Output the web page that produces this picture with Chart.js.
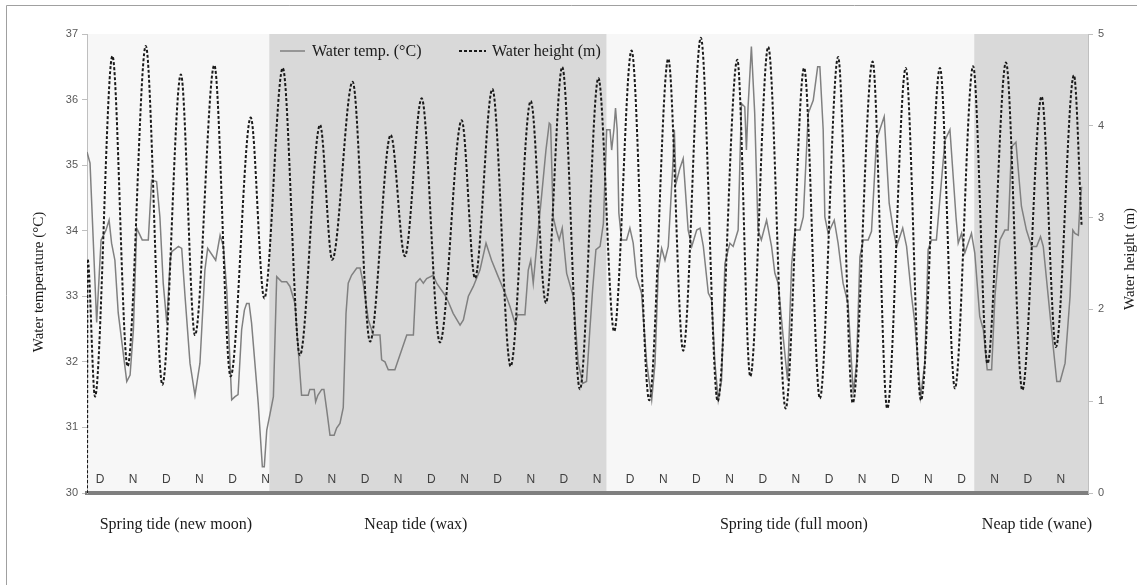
<!DOCTYPE html>
<html>
<head>
<meta charset="utf-8">
<script src="https://cdn.jsdelivr.net/npm/chart.js@4/dist/chart.umd.min.js"></script>
<style>
  body { margin: 0; background: #fff; }
  canvas { display: block; }
</style>
</head>
<body>
<canvas id="tideChart" width="1137" height="585"></canvas>
<script>
// time in hours from the start of the record
const tideHours = [0, 0.2, 2.9, 9.2, 14.7, 21.3, 27.3, 34.0, 39.1, 46.1, 52.0, 59.3, 64.2, 70.9, 77.1, 84.4, 88.8,
  96.2, 102.5, 110.0, 115.1, 121.2, 127.8, 135.7, 140.5, 146.8, 153.4, 160.7, 166.2, 172.1, 178.5, 185.2,
  190.9, 197.2, 203.6, 210.5, 215.9, 222.3, 228.4, 235.5, 240.2, 246.7, 253.0, 259.7, 265.4, 272.0,
  277.3, 284.5, 289.8, 296.5, 302.0, 308.9, 314.3, 320.9, 326.1, 332.8, 338.7, 345.7, 350.9, 357.4, 360.2];
const tideHeight = [0, 2.55, 1.05, 4.76, 1.38, 4.87, 1.18, 4.56, 1.72, 4.66, 1.27, 4.09, 2.12, 4.63, 1.50, 4.01, 2.54,
  4.48, 1.65, 3.90, 2.58, 4.30, 1.64, 4.06, 2.34, 4.40, 1.38, 4.27, 2.07, 4.64, 1.13, 4.52,
  1.76, 4.82, 1.01, 4.73, 1.55, 4.96, 1.00, 4.72, 1.27, 4.86, 0.92, 4.63, 1.03, 4.75,
  0.98, 4.70, 0.92, 4.63, 1.01, 4.63, 1.14, 4.65, 1.41, 4.69, 1.12, 4.32, 1.59, 4.55, 2.90];

const tempHours = [0, 1.1, 3.5, 5.1, 6.8, 8.0, 8.9, 10.1, 11.3, 14.4, 15.6, 16.8, 18.0, 20.0, 22.2, 23.4, 25.2, 26.4,
  27.6, 28.9, 30.1, 30.7, 33.1, 34.3, 35.5, 37.3, 39.1, 40.9, 42.7, 43.7, 46.6, 48.2, 49.4, 50.6, 52.4, 53.6,
  54.7, 56.0, 57.0, 57.8, 58.7, 59.6, 60.8, 62.0, 63.5, 64.2, 65.1, 66.3, 67.5, 68.7, 70.5, 72.3, 73.5, 75.3,
  76.5, 77.7, 80.1, 80.7, 82.3, 82.8, 83.6, 85.0, 85.8, 86.8, 88.0, 89.5, 90.4, 91.6, 92.8, 93.8, 94.6, 95.8,
  97.7, 98.9, 100.0, 101.9, 103.7, 106.1, 106.7, 107.9, 109.1, 111.5, 112.7, 114.1, 115.8, 118.2, 119.1, 120.6,
  121.8, 123.0, 125.4, 126.6, 129.6, 130.8, 132.6, 135.1, 136.3, 138.1, 139.9, 142.3, 144.5, 146.5, 148.9,
  151.4, 153.2, 155.0, 156.0, 158.6, 159.8, 160.7, 161.6, 163.4, 164.6, 166.2, 167.4, 167.9, 168.8, 170.0,
  171.0, 172.1, 173.7, 176.1, 177.9, 179.5, 180.9, 182.1, 183.1, 184.3, 185.8, 187.0, 188.2, 189.4, 190.0,
  190.8, 191.4, 192.0, 192.6, 193.6, 195.4, 196.6, 197.8, 199.0, 200.8, 202.7, 204.5, 205.7, 206.9, 208.1,
  209.3, 210.5, 212.0, 212.7, 213.3, 214.7, 215.9, 217.7, 219.0, 220.8, 222.0, 223.2, 225.0, 226.2, 227.4,
  228.6, 229.8, 231.0, 232.8, 234.0, 235.8, 237.0, 238.2, 238.8, 239.4, 240.6, 241.8, 243.0, 244.2, 246.1,
  247.9, 249.1, 250.3, 252.1, 253.7, 255.2, 256.4, 258.2, 259.4, 261.2, 263.0, 264.6, 265.4, 266.6, 267.2,
  268.4, 270.6, 272.0, 273.8, 275.6, 277.5, 278.7, 279.9, 281.1, 282.9, 284.1, 285.9, 287.1, 288.7, 290.5,
  292.0, 293.2, 295.4, 296.8, 298.6, 299.8, 301.9, 303.4, 304.6, 305.8, 307.6, 310.7, 312.5, 314.7, 315.5,
  316.7, 317.9, 319.1, 320.3, 321.5, 323.3, 324.6, 326.0, 327.6, 328.8, 330.6, 332.4, 333.6, 334.8, 336.4,
  338.4, 340.2, 342.1, 343.9, 345.3, 346.3, 348.7, 349.9, 351.2, 352.4, 354.2, 356.0, 357.0, 357.8, 359.0,
  359.6, 360.2];
const tempValues = [35.2, 35.03, 32.6, 33.86, 34.0, 34.16, 33.81, 33.55, 32.75, 31.7, 31.8, 32.49, 34.04, 33.86, 33.86, 34.77, 34.75, 34.21,
  33.2, 32.59, 33.55, 33.68, 33.76, 33.73, 33.0, 31.98, 31.49, 31.98, 33.4, 33.73, 33.55, 33.93, 33.76, 33.1, 31.42, 31.47,
  31.5, 32.49, 32.79, 32.89, 32.89, 32.59, 31.98, 31.37, 30.4, 30.4, 30.96, 31.21, 31.47, 33.3, 33.22, 33.22, 33.15, 32.89,
  32.18, 31.49, 31.49, 31.58, 31.58, 31.39, 31.49, 31.58, 31.58, 31.27, 30.88, 30.88, 30.99, 31.06, 31.3, 32.74, 33.2, 33.32,
  33.43, 33.43, 33.2, 32.64, 32.41, 32.41, 32.03, 32.0, 31.88, 31.88, 32.03, 32.2, 32.41, 32.41, 33.2, 33.27,
  33.2, 33.27, 33.32, 33.2, 33.02, 32.92, 32.74, 32.56, 32.64, 33.0, 33.15, 33.4, 33.81, 33.55, 33.3,
  33.05, 32.84, 32.59, 32.72, 32.72, 33.4, 33.55, 33.2, 34.01, 34.52, 35.23, 35.64, 35.62, 34.21, 34.0,
  33.86, 34.04, 33.35, 33.0, 31.98, 31.67, 31.7, 32.49, 33.1, 33.71, 33.76, 34.11, 35.54, 35.54, 35.23,
  35.54, 35.87, 35.54, 34.27, 33.86, 33.86, 34.04, 33.81, 33.3, 33.05, 31.98, 31.42, 31.98, 33.4, 33.73,
  33.55, 33.76, 34.88, 35.54, 34.72, 34.95, 35.1, 34.01, 33.76, 34.01, 34.04, 33.76, 33.05, 32.95, 31.98,
  31.42, 31.72, 33.5, 33.81, 33.76, 34.01, 35.94, 35.89, 35.23, 35.89, 36.81, 35.79, 34.01, 33.86, 34.16,
  33.76, 33.35, 33.2, 32.38, 31.72, 33.5, 34.01, 34.01, 34.21, 35.79, 35.99, 36.5, 36.5, 35.54, 34.21,
  33.96, 34.16, 33.81, 33.2, 32.89, 31.52, 31.98, 33.6, 33.86, 33.86, 33.99, 35.38, 35.54, 35.74, 34.42,
  34.01, 33.76, 34.04, 33.76, 33.0, 32.59, 31.47, 31.98, 33.71, 33.86, 33.86, 35.38, 35.54, 34.21, 33.81,
  33.96, 33.66, 33.81, 33.96, 33.66, 32.69, 32.49, 31.88, 31.88, 33.0, 33.86, 34.01, 34.01, 35.28, 35.35,
  34.37, 34.01, 33.76, 33.76, 33.91, 33.76, 32.74, 32.23, 31.7, 31.7, 31.98, 33.0, 34.01, 33.96, 33.93,
  34.42, 34.67];

// day / night markers
const dnLabels = ['D', 'N', 'D', 'N', 'D', 'N', 'D', 'N', 'D', 'N', 'D', 'N', 'D', 'N', 'D', 'N',
  'D', 'N', 'D', 'N', 'D', 'N', 'D', 'N', 'D', 'N', 'D', 'N', 'D', 'N'];
const dnHours = [4.7, 16.7, 28.7, 40.7, 52.7, 64.7, 76.7, 88.7, 100.7, 112.7, 124.7, 136.7, 148.7, 160.7, 172.7,
  184.7, 196.7, 208.7, 220.7, 232.7, 244.7, 256.7, 268.7, 280.7, 292.7, 304.7, 316.7, 328.7, 340.7, 352.7];

// tidal phases
const phaseNames = ['Spring tide (new moon)', 'Neap tide (wax)', 'Spring tide (full moon)', 'Neap tide (wane)'];
const phaseStart = [0, 66, 188.2, 321.3];
const phaseEnd = [66, 188.2, 321.3, 362.5];
const phaseLabelHours = [32.2, 119.1, 256, 344];
const phaseFill = ['#f7f7f7', '#d9d9d9', '#f7f7f7', '#d9d9d9'];

const SERIF = '"Liberation Serif", "Times New Roman", serif';
const SANS = '"Liberation Sans", Arial, sans-serif';

const decorPlugin = {
  id: 'decor',
  beforeDraw(chart) {
    const { ctx, chartArea: a, scales } = chart;
    ctx.save();
    ctx.fillStyle = '#ffffff';
    ctx.fillRect(0, 0, chart.width, chart.height);
    // figure frame
    ctx.strokeStyle = '#a0a0a0';
    ctx.lineWidth = 1;
    ctx.beginPath();
    ctx.moveTo(6.5, chart.height);
    ctx.lineTo(6.5, 5.5);
    ctx.lineTo(chart.width, 5.5);
    ctx.stroke();
    // phase shading
    phaseStart.forEach((s, i) => {
      const x0 = scales.x.getPixelForValue(s);
      const x1 = scales.x.getPixelForValue(phaseEnd[i]);
      ctx.fillStyle = phaseFill[i];
      ctx.fillRect(x0, a.top, x1 - x0, a.bottom - a.top);
    });
    ctx.restore();
  },
  beforeDatasetsDraw(chart) {
    const { ctx, chartArea: a, scales } = chart;
    ctx.save();
    ctx.fillStyle = '#404040';
    ctx.font = '12px ' + SANS;
    ctx.textAlign = 'center';
    ctx.textBaseline = 'middle';
    dnLabels.forEach((t, i) => {
      ctx.fillText(t, scales.x.getPixelForValue(dnHours[i]), a.bottom - 13);
    });
    ctx.restore();
  },
  afterDraw(chart) {
    const { ctx, chartArea: a, scales } = chart;
    ctx.save();
    ctx.fillStyle = '#1a1a1a';
    ctx.textBaseline = 'middle';
    ctx.textAlign = 'center';
    ctx.font = '16px ' + SERIF;
    phaseNames.forEach((t, i) => {
      ctx.fillText(t, scales.x.getPixelForValue(phaseLabelHours[i]), a.bottom + 32);
    });

    // axis titles
    ctx.font = '15px ' + SERIF;
    ctx.save();
    ctx.translate(39, 282);
    ctx.rotate(-Math.PI / 2);
    ctx.fillText('Water temperature (°C)', 0, 0);
    ctx.restore();
    ctx.save();
    ctx.translate(1130, 259);
    ctx.rotate(-Math.PI / 2);
    ctx.fillText('Water height (m)', 0, 0);
    ctx.restore();

    // legend
    const ly = a.top + 17;
    ctx.textAlign = 'left';
    ctx.font = '16px ' + SERIF;
    ctx.strokeStyle = '#7f7f7f';
    ctx.lineWidth = 1.5;
    ctx.beginPath();
    ctx.moveTo(280, ly);
    ctx.lineTo(305, ly);
    ctx.stroke();
    ctx.fillText('Water temp. (°C)', 312, ly + 1);
    ctx.strokeStyle = '#1a1a1a';
    ctx.lineWidth = 2;
    ctx.setLineDash([3, 2]);
    ctx.beginPath();
    ctx.moveTo(459, ly);
    ctx.lineTo(486, ly);
    ctx.stroke();
    ctx.setLineDash([]);
    ctx.fillText('Water height (m)', 492, ly + 1);
    ctx.restore();
  }
};

const tideData = tideHours.map((h, i) => ({ x: h, y: tideHeight[i] }));
const tempData = tempHours.map((h, i) => ({ x: h, y: tempValues[i] }));

const config = {
  type: 'line',
  data: {
    datasets: [
      {
        label: 'Water height (m)',
        data: tideData,
        yAxisID: 'y1',
        borderColor: '#1a1a1a',
        borderWidth: 2,
        borderDash: [3, 2],
        cubicInterpolationMode: 'monotone',
        pointRadius: 0,
        fill: false
      },
      {
        label: 'Water temp. (°C)',
        data: tempData,
        yAxisID: 'y',
        borderColor: '#808080',
        borderWidth: 1.5,
        tension: 0,
        pointRadius: 0,
        fill: false
      }
    ]
  },
  options: {
    responsive: false,
    animation: false,
    devicePixelRatio: 1,
    layout: { padding: { top: 34, left: 0, right: 0, bottom: 0 } },
    plugins: {
      legend: { display: false },
      tooltip: { enabled: false }
    },
    scales: {
      x: {
        type: 'linear',
        min: 0,
        max: 362.5,
        ticks: { display: false },
        grid: { display: false },
        border: { display: true, color: '#7f7f7f', width: 4 },
        afterFit: s => { s.height = 92; }
      },
      y: {
        position: 'left',
        min: 30,
        max: 37,
        ticks: { stepSize: 1, color: '#595959', font: { family: SANS, size: 11 }, padding: 4 },
        grid: { drawOnChartArea: false, tickLength: 5, color: '#bfbfbf' },
        border: { color: '#bfbfbf' },
        afterFit: s => { s.width = 87; }
      },
      y1: {
        position: 'right',
        min: 0,
        max: 5,
        ticks: { stepSize: 1, color: '#595959', font: { family: SANS, size: 11 }, padding: 5 },
        grid: { drawOnChartArea: false, tickLength: 5, color: '#bfbfbf' },
        border: { color: '#bfbfbf' },
        afterFit: s => { s.width = 49; }
      }
    }
  },
  plugins: [decorPlugin]
};

const ctx = document.getElementById('tideChart').getContext('2d');
new Chart(ctx, config);
</script>
</body>
</html>
